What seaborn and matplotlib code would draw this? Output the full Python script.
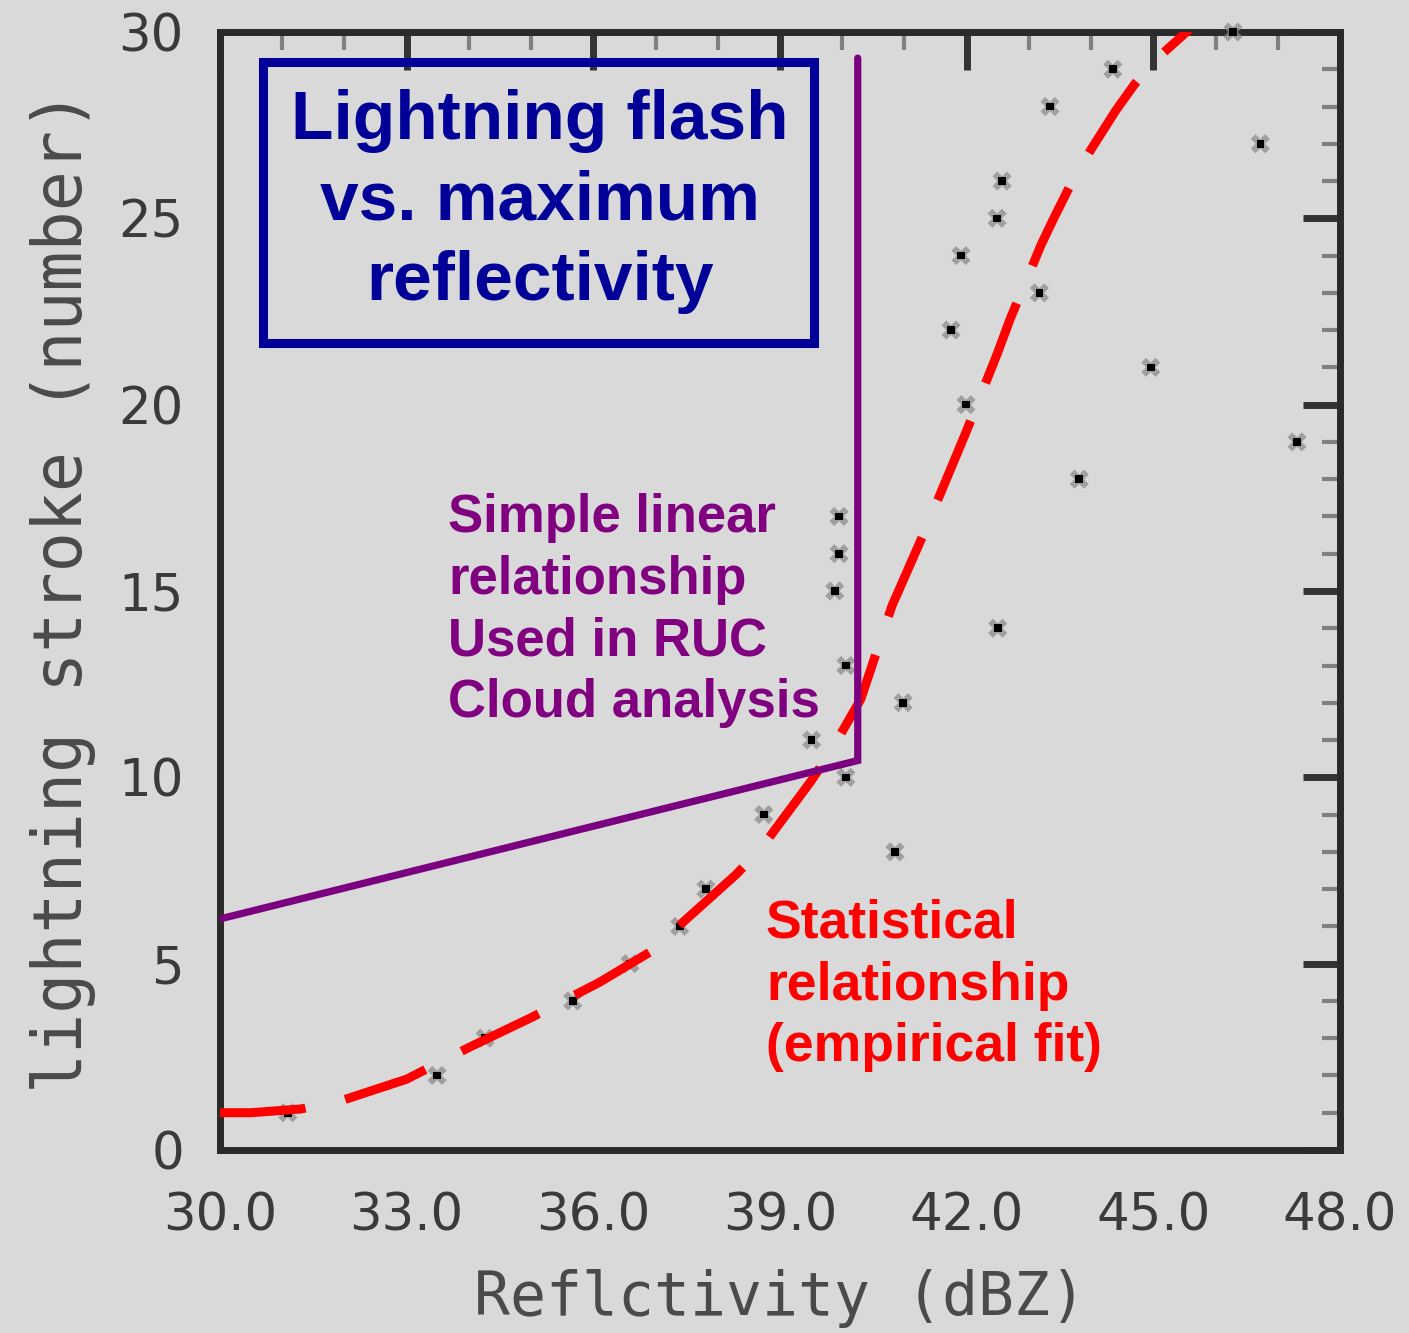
import matplotlib
matplotlib.use("Agg")
import matplotlib.pyplot as plt
import seaborn as sns
import pandas as pd
from matplotlib.patches import Rectangle
from matplotlib.ticker import MultipleLocator, FormatStrFormatter

# observed points (reflectivity dBZ, lightning strokes)
refl = [31.09, 33.49, 34.26, 35.67, 36.59, 37.39, 37.81, 40.85, 38.74, 40.06,
        39.51, 40.98, 40.06, 42.50, 39.88, 39.95, 39.95, 43.81, 47.31, 41.99,
        44.96, 41.75, 43.17, 41.91, 42.49, 42.57, 46.72, 43.34, 44.35, 46.28]
strokes = list(range(1, 31))

# empirical fit curve
fit_x = [30.0, 30.5, 31.3, 32.0, 33.0, 34.0, 35.0, 36.1, 36.9, 37.3, 38.3, 38.7,
         39.5, 39.8, 40.3, 40.8, 41.3, 41.8, 42.0, 42.5, 42.7, 43.2, 43.4,
         43.7, 44.0, 44.4, 44.7, 45.0, 45.3, 45.6]
fit_y = [1.0, 1.0, 1.1, 1.35, 1.9, 2.75, 3.55, 4.5, 5.3, 5.9, 7.4, 8.1,
         9.9, 10.65, 12.1, 14.6, 16.5, 18.5, 19.3, 21.4, 22.3, 24.3, 25.0,
         26.0, 26.85, 27.9, 28.6, 29.2, 29.65, 30.1]

# simple linear relationship used in RUC
lin_x = [30.0, 40.25, 40.25]
lin_y = [6.2, 10.45, 29.3]

xticks = [30, 33, 36, 39, 42, 45, 48]
yticks = [0, 5, 10, 15, 20, 25, 30]

sns.set_theme(style="white")
bg = "#d9d9d9"
plt.rcParams["font.family"] = ["DejaVu Sans"]

fig = plt.figure(figsize=(14.09, 13.33), dpi=100, facecolor=bg)
ax = fig.add_axes([0.1561, 0.1373, 0.7949, 0.8387])
ax.set_facecolor(bg)

pts = pd.DataFrame({"x": refl, "y": strokes})
sns.scatterplot(data=pts, x="x", y="y", ax=ax, marker="X", s=190, color="#8c8c8c",
                edgecolor="none", alpha=0.75, clip_on=False, zorder=3)
sns.scatterplot(data=pts, x="x", y="y", ax=ax, marker="s", s=30, color="black",
                edgecolor="none", clip_on=False, zorder=4)

fit = pd.DataFrame({"x": fit_x, "y": fit_y})
sns.lineplot(data=fit, x="x", y="y", ax=ax, sort=False, estimator=None,
             color="#ff0000", linewidth=6.5, zorder=5)
ax.lines[-1].set_dashes([9.5, 4.5])
ax.lines[-1].set_dash_capstyle("butt")
ax.lines[-1].set_dash_joinstyle("round")

lin = pd.DataFrame({"x": lin_x, "y": lin_y})
sns.lineplot(data=lin, x="x", y="y", ax=ax, sort=False, estimator=None,
             color="#7b007f", linewidth=5.2, zorder=6)
ax.lines[-1].set_solid_joinstyle("miter")

ax.set_xlim(30, 48)
ax.set_ylim(0, 30)
ax.xaxis.set_minor_locator(MultipleLocator(1))
ax.yaxis.set_minor_locator(MultipleLocator(1))
ax.set_xticks(xticks)
ax.set_yticks(yticks)
ax.xaxis.set_major_formatter(FormatStrFormatter("%.1f"))

tcol = "#3a3a3a"
ax.tick_params(which="major", direction="in", length=27, width=5, color="#333333",
               top=True, right=True, labelsize=37, labelcolor=tcol)
ax.tick_params(which="minor", direction="in", length=13, width=3, color="#808080",
               top=True, right=True)
ax.tick_params(axis="x", which="major", pad=30)
ax.tick_params(axis="y", which="major", pad=26)

for s in ax.spines.values():
    s.set_visible(True)
    s.set_linewidth(5)
    s.set_color("#2a2a2a")

ax.set_xlabel("Reflctivity (dBZ)", family="DejaVu Sans Mono", fontsize=43,
              color="#4a4a4a", labelpad=20)
ax.set_ylabel("lightning stroke (number)", family="DejaVu Sans Mono", fontsize=48,
              color="#4a4a4a", labelpad=16)

# title box
ax.add_patch(Rectangle((0.0384, 0.722), 0.4920, 0.251, transform=ax.transAxes,
                       fill=False, edgecolor="#000099", linewidth=6.5, zorder=7,
                       clip_on=False))
ax.text(0.2857, 0.848, "Lightning flash\nvs. maximum\nreflectivity", transform=ax.transAxes,
        ha="center", va="center", fontsize=50, fontweight="bold", color="#000099",
        family="Liberation Sans", linespacing=1.33, zorder=8)

ax.text(0.2036, 0.4825, "Simple linear\nrelationship\nUsed in RUC\nCloud analysis",
        transform=ax.transAxes, ha="left", va="center", fontsize=38, fontweight="bold",
        color="#800080", family="Liberation Sans", linespacing=1.30, zorder=8)

ax.text(0.4875, 0.147, "Statistical\nrelationship\n(empirical fit)",
        transform=ax.transAxes, ha="left", va="center", fontsize=38.5, fontweight="bold",
        color="#ff0000", family="Liberation Sans", linespacing=1.30, zorder=8)

fig.savefig("out.png", dpi=100, facecolor=bg)
